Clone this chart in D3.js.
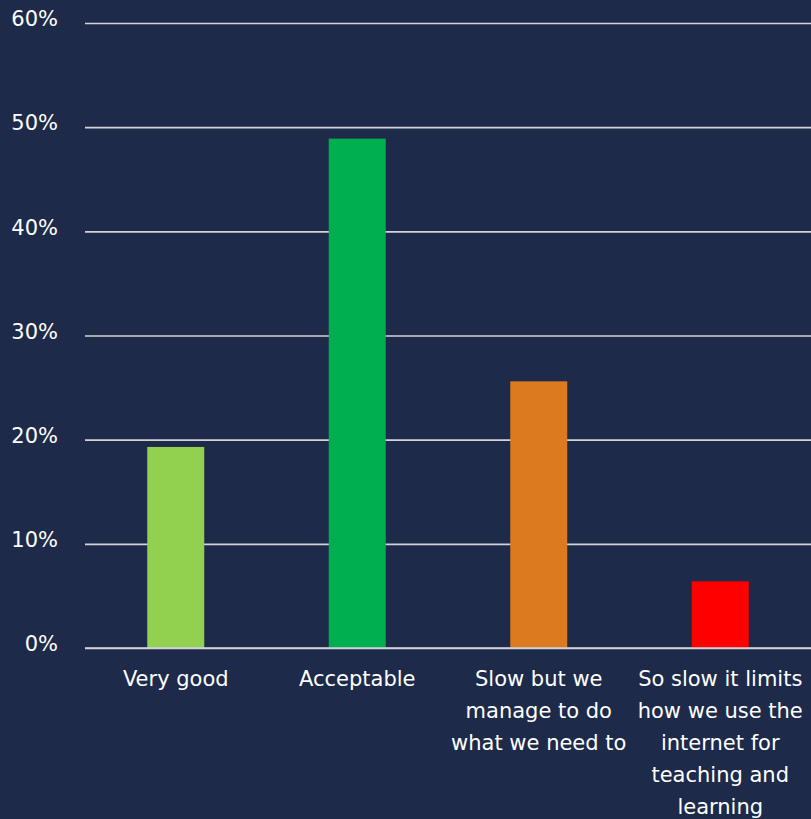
<!DOCTYPE html>
<html>
<head>
<meta charset="utf-8">
<script src="https://cdn.jsdelivr.net/npm/d3@7"></script>
<style>
  html, body { margin: 0; padding: 0; background: #1d2a4a; }
  svg { display: block; }
  text { font-family: "DejaVu Sans", sans-serif; fill: #ffffff; }
</style>
</head>
<body>
<svg id="chart" width="811" height="819"></svg>
<script>
// Internet speed ratings (share of respondents)
const categories = [
  "Very good",
  "Acceptable",
  "Slow but we manage to do what we need to",
  "So slow it limits how we use the internet for teaching and learning"
];
const categoryLines = [
  ["Very good"],
  ["Acceptable"],
  ["Slow but we", "manage to do", "what we need to"],
  ["So slow it limits", "how we use the", "internet for", "teaching and", "learning"]
];
const values = [19.3, 48.9, 25.6, 6.4];
const barColors = ["#92d050", "#00b050", "#dc7a1f", "#ff0000"];
const yTicks = [0, 10, 20, 30, 40, 50, 60];

const svg = d3.select("#chart");
const margin = { left: 85, right: 0, top: 23, bottom: 171 };
const W = 811, H = 819;

const x = d3.scaleBand()
  .domain(categories)
  .range([margin.left, W - margin.right])
  .paddingInner(0.686)
  .paddingOuter(0.343);

const y = d3.scaleLinear()
  .domain([0, 60])
  .range([H - margin.bottom, margin.top]);

// Gridlines with percentage labels
const grid = d3.axisLeft(y)
  .tickValues(yTicks)
  .tickSize(-(W - margin.left - margin.right))
  .tickFormat(d => d + "%")
  .tickPadding(27);

const gy = svg.append("g")
  .attr("transform", `translate(${margin.left},0)`)
  .call(grid);
gy.select(".domain").remove();
gy.selectAll(".tick line")
  .attr("stroke", "#d2d4da")
  .attr("stroke-width", 1.6);
gy.selectAll(".tick text")
  .attr("fill", "#ffffff")
  .attr("font-size", 21)
  .attr("font-family", "'DejaVu Sans', sans-serif")
  .attr("dy", "0.13em");

// Bars
svg.append("g").selectAll("rect")
  .data(categories)
  .join("rect")
  .attr("x", d => x(d))
  .attr("width", x.bandwidth())
  .attr("y", (d, i) => y(values[i]))
  .attr("height", (d, i) => y(0) - y(values[i]))
  .attr("fill", (d, i) => barColors[i]);

// Baseline drawn over the bars
svg.append("line")
  .attr("x1", margin.left).attr("x2", W - margin.right)
  .attr("y1", y(0)).attr("y2", y(0))
  .attr("stroke", "#d2d4da").attr("stroke-width", 1.6);

// Category labels (wrapped)
const lbl = svg.append("g").selectAll("text")
  .data(categories)
  .join("text")
  .attr("text-anchor", "middle")
  .attr("font-size", 21)
  .attr("x", d => x(d) + x.bandwidth() / 2)
  .attr("y", y(0) + 38);
lbl.selectAll("tspan")
  .data((d, i) => categoryLines[i].map(t => ({ t, cx: x(d) + x.bandwidth() / 2 })))
  .join("tspan")
  .attr("x", d => d.cx)
  .attr("dy", (d, i) => i === 0 ? 0 : 32)
  .text(d => d.t);
</script>
</body>
</html>
